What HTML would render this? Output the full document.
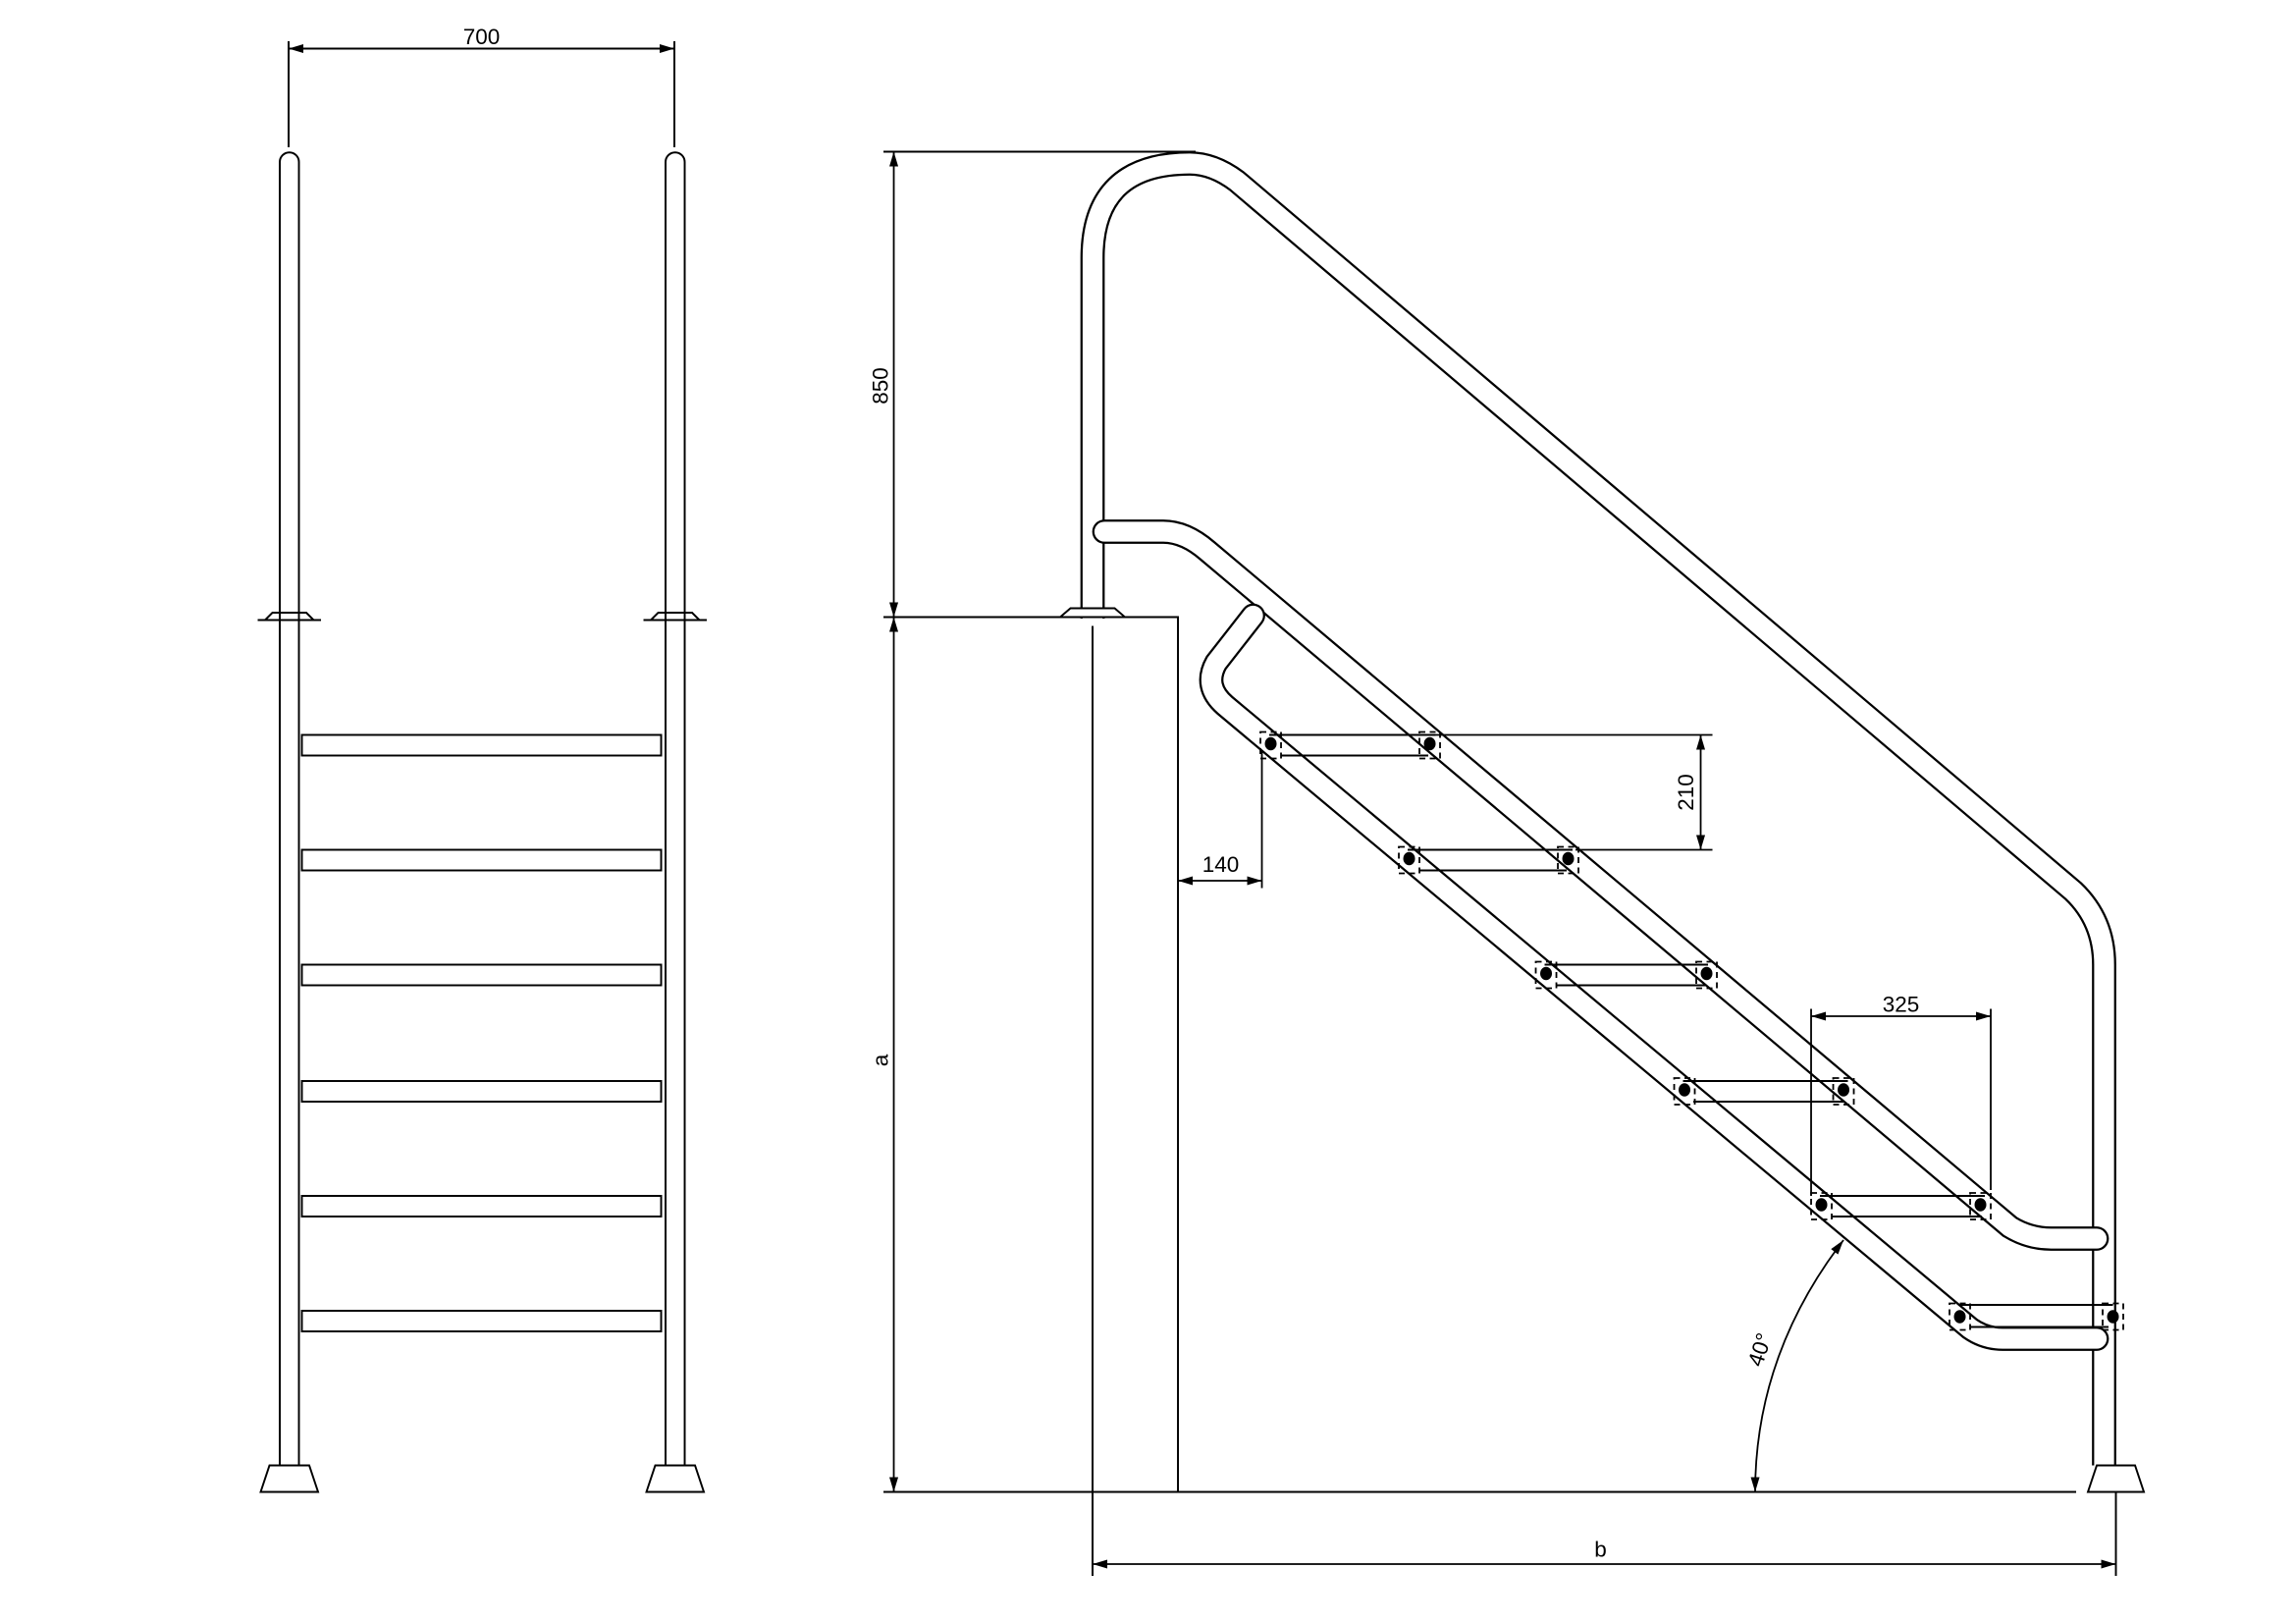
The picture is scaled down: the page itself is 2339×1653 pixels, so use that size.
<!DOCTYPE html>
<html><head><meta charset="utf-8"><style>
html,body{margin:0;padding:0;background:#fff}
svg{display:block}
text{font-family:"Liberation Sans",sans-serif;font-size:15px;fill:#000}
</style></head><body>
<svg width="2339" height="1653" viewBox="0 0 1559.3 1102" xmlns="http://www.w3.org/2000/svg">
<defs>
<marker id="ar" viewBox="0 0 10 6" refX="10" refY="3" markerWidth="12" markerHeight="6" orient="auto-start-reverse" markerUnits="userSpaceOnUse"><path d="M0,0L10,3L0,6z" fill="#000"/></marker>
</defs>
<g fill="none" stroke="#000" stroke-width="1.3">
<path d="M190,995V110A6.5,6.5 0 0 1 203,110V995"/>
<path d="M452,995V110A6.5,6.5 0 0 1 465,110V995"/>
<path d="M183,995H210L216,1013H177Z"/>
<path d="M445,995H472L478,1013H439Z"/>
<path d="M175,421H218M180,421L185,416H208L213,421"/>
<path d="M437,421H480M442,421L447,416H470L475,421"/>
<rect x="205" y="499" width="244" height="14"/>
<rect x="205" y="577" width="244" height="14"/>
<rect x="205" y="655" width="244" height="14"/>
<rect x="205" y="734" width="244" height="14"/>
<rect x="205" y="812" width="244" height="14"/>
<rect x="205" y="890" width="244" height="14"/>
<path d="M196,28V100M458,28V100"/>
<line x1="196" y1="33" x2="458" y2="33" marker-start="url(#ar)" marker-end="url(#ar)"/>
</g>
<text x="327" y="30" text-anchor="middle">700</text>

<g fill="none" stroke-linejoin="round">
<path d="M742,420V175Q742,111 808,111Q824,111 840,123L1408,605Q1429,625 1429,655V995" stroke="#000" stroke-width="16.5"/>
<path d="M742,420V175Q742,111 808,111Q824,111 840,123L1408,605Q1429,625 1429,655V995" stroke="#fff" stroke-width="13.5"/>
<path d="M750,361L790,361Q805,361 820,374L1365,833Q1378,841 1393,841L1424,841" stroke="#000" stroke-width="16.5" stroke-linecap="round"/>
<path d="M750,361L790,361Q805,361 820,374L1365,833Q1378,841 1393,841L1424,841" stroke="#fff" stroke-width="13.5" stroke-linecap="round"/>
<path d="M851,418L826,450Q817,466 832,479L1338,902Q1348,909 1360,909L1424,909" stroke="#000" stroke-width="16.5" stroke-linecap="round"/>
<path d="M851,418L826,450Q817,466 832,479L1338,902Q1348,909 1360,909L1424,909" stroke="#fff" stroke-width="13.5" stroke-linecap="round"/>
</g>
<g fill="#fff" stroke="#000" stroke-width="1.3">
<path d="M720,419L727,413H757L764,419Z"/>
<path d="M1418,1013L1424,995H1450L1456,1013Z"/>
</g>
<g fill="none" stroke="#000" stroke-width="1.3">
<path d="M600,419H800V1013M742,425V1070"/>
<path d="M600,1013H1410M1437,1013V1070M600,103H812"/>
<path d="M862,499H975M870,513H970"/>
<path d="M956,577H1068M964,591H1064"/>
<path d="M1049,655H1160M1057,669H1158"/>
<path d="M1143,734H1255M1150,748H1252"/>
<path d="M1236,812H1348M1244,826H1346"/>
<path d="M1330,886H1435M1338,901H1432"/>
</g>
<g fill="none" stroke="#000" stroke-width="1.2" stroke-dasharray="4,3">
<rect x="856" y="497" width="14" height="18"/><rect x="964" y="497" width="14" height="18"/>
<rect x="950" y="575" width="14" height="18"/><rect x="1058" y="575" width="14" height="18"/>
<rect x="1043" y="653" width="14" height="18"/><rect x="1152" y="653" width="14" height="18"/>
<rect x="1137" y="732" width="14" height="18"/><rect x="1245" y="732" width="14" height="18"/>
<rect x="1230" y="810" width="14" height="18"/><rect x="1338" y="810" width="14" height="18"/>
<rect x="1324" y="885" width="14" height="18"/><rect x="1428" y="885" width="14" height="18"/>
</g>
<g fill="#000">
<ellipse cx="863" cy="505" rx="4" ry="4.5"/><ellipse cx="971" cy="505" rx="4" ry="4.5"/>
<ellipse cx="957" cy="583" rx="4" ry="4.5"/><ellipse cx="1065" cy="583" rx="4" ry="4.5"/>
<ellipse cx="1050" cy="661" rx="4" ry="4.5"/><ellipse cx="1159" cy="661" rx="4" ry="4.5"/>
<ellipse cx="1144" cy="740" rx="4" ry="4.5"/><ellipse cx="1252" cy="740" rx="4" ry="4.5"/>
<ellipse cx="1237" cy="818" rx="4" ry="4.5"/><ellipse cx="1345" cy="818" rx="4" ry="4.5"/>
<ellipse cx="1331" cy="894" rx="4" ry="4.5"/><ellipse cx="1435" cy="894" rx="4" ry="4.5"/>
</g>
<g fill="none" stroke="#000" stroke-width="1.2">
<line x1="607" y1="103" x2="607" y2="419" marker-start="url(#ar)" marker-end="url(#ar)"/>
<line x1="607" y1="419" x2="607" y2="1013" marker-start="url(#ar)" marker-end="url(#ar)"/>
<line x1="742" y1="1062" x2="1437" y2="1062" marker-start="url(#ar)" marker-end="url(#ar)"/>
<path d="M975,499H1163M1070,577H1163"/>
<line x1="1155" y1="499" x2="1155" y2="577" marker-start="url(#ar)" marker-end="url(#ar)"/>
<path d="M857,510V603"/>
<line x1="800" y1="598" x2="857" y2="598" marker-start="url(#ar)" marker-end="url(#ar)"/>
<path d="M1230,685V812M1352,685V808"/>
<line x1="1230" y1="690" x2="1352" y2="690" marker-start="url(#ar)" marker-end="url(#ar)"/>
<path d="M1192,1013Q1192,920 1252,842" marker-start="url(#ar)" marker-end="url(#ar)"/>
</g>
<text transform="translate(603,262) rotate(-90)" text-anchor="middle">850</text>
<text transform="translate(603,720) rotate(-90)" text-anchor="middle">a</text>
<text x="1087" y="1057" text-anchor="middle">b</text>
<text transform="translate(1150,538) rotate(-90)" text-anchor="middle">210</text>
<text x="829" y="592" text-anchor="middle">140</text>
<text x="1291" y="687" text-anchor="middle">325</text>
<text transform="translate(1200,918) rotate(-72)" text-anchor="middle">40°</text>
</svg>
</body></html>
